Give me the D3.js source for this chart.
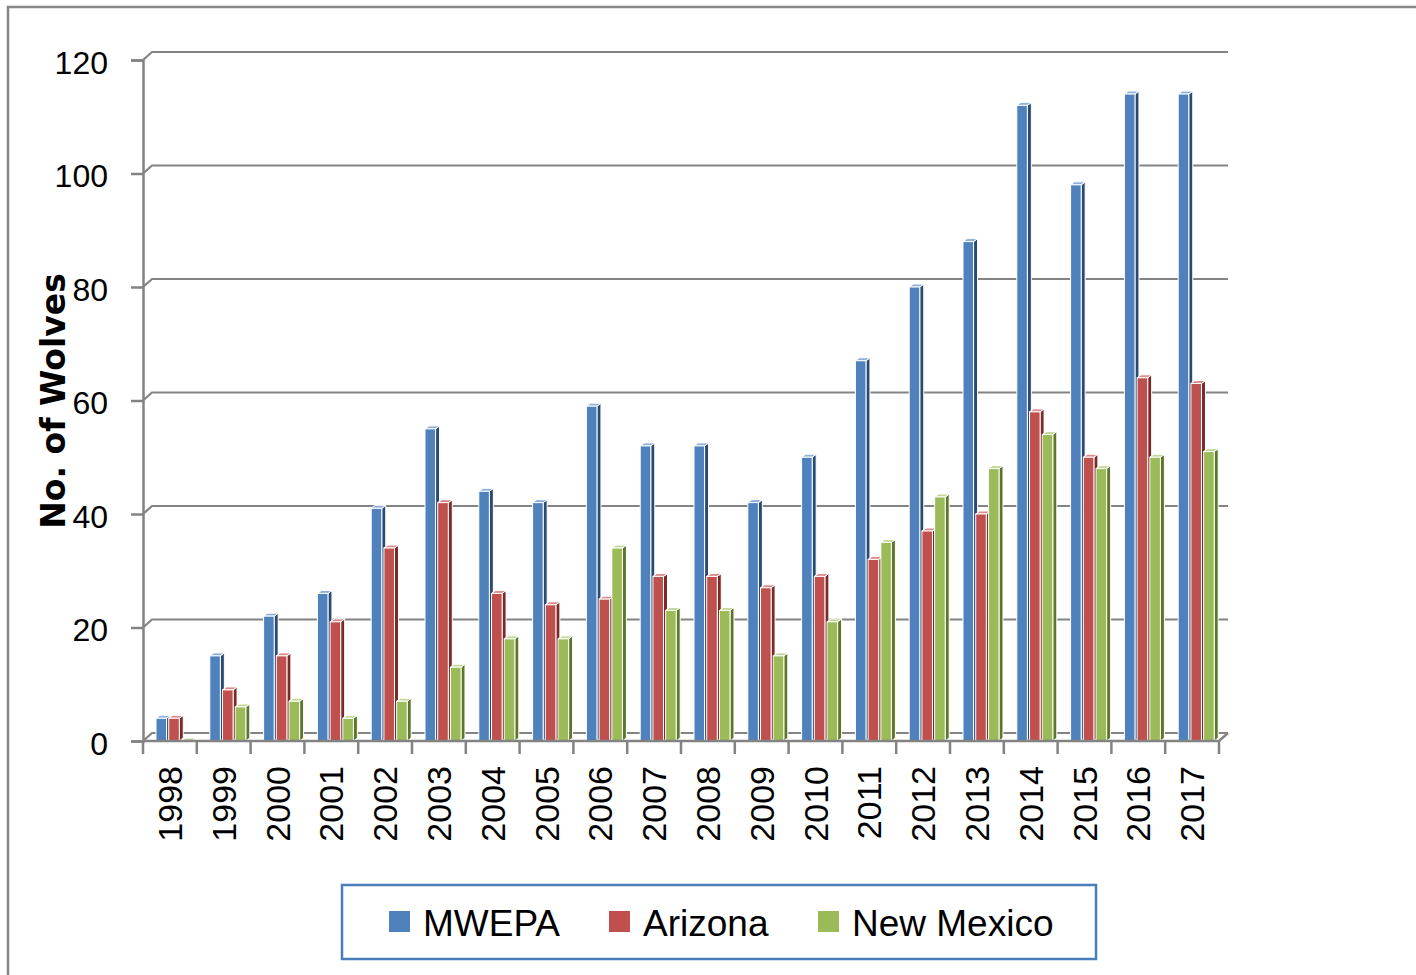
<!DOCTYPE html>
<html>
<head>
<meta charset="utf-8">
<script src="https://cdn.jsdelivr.net/npm/d3@7"></script>
<style>
  body { margin: 0; background: #fff; }
  svg { display: block; }
</style>
</head>
<body>
<script>
// Mexican wolf counts by year
var years = ["1998","1999","2000","2001","2002","2003","2004","2005","2006","2007",
             "2008","2009","2010","2011","2012","2013","2014","2015","2016","2017"];
var mwepa     = [4,15,22,26,41,55,44,42,59,52,52,42,50,67,80,88,112,98,114,114];
var arizona   = [4,9,15,21,34,42,26,24,25,29,29,27,29,32,37,40,58,50,64,63];
var newMexico = [0,6,7,4,7,13,18,18,34,23,23,15,21,35,43,48,54,48,50,51];
var seriesNames = ["MWEPA","Arizona","New Mexico"];
var yTicks = [0,20,40,60,80,100,120];

var width = 1416,
    height = 975,
    plotLeft = 143, plotRight = 1219,
    plotTop = 60, plotBottom = 741,
    depthX = 9, depthY = 8,     // back wall offset
    barDx = 4, barDy = 3;       // bar depth

var colors = {
  "MWEPA":      {front: "#4F81BD", side: "#2A4A72", top: "#8FB0DA"},
  "Arizona":    {front: "#C0504D", side: "#7A2A28", top: "#DC8C8A"},
  "New Mexico": {front: "#9BBB59", side: "#5C772B", top: "#C3D99A"}
};

var rows = years.map(function(yr, i){
  return {year: yr, "MWEPA": mwepa[i], "Arizona": arizona[i], "New Mexico": newMexico[i]};
});

var svg = d3.select("body").append("svg")
  .attr("width", width)
  .attr("height", height);

svg.append("rect").attr("width", width).attr("height", height).attr("fill", "#fff");

// chart area border (runs off the right and bottom edges)
svg.append("rect")
  .attr("x", 8).attr("y", 7)
  .attr("width", 1430).attr("height", 990)
  .attr("fill", "none")
  .attr("stroke", "#878787")
  .attr("stroke-width", 2.5);

var x0 = d3.scaleBand().domain(years).range([plotLeft, plotRight]);
var x1 = d3.scaleBand().domain(seriesNames).range([13, 49]).paddingInner(0.17);
var y = d3.scaleLinear().domain([0, 120]).range([plotBottom, plotTop]);

var gridColor = "#838383";

// back gridlines with the little diagonal connector to the front axis
var grid = svg.append("g");
yTicks.forEach(function(t){
  var yy = y(t);
  grid.append("path")
    .attr("d", "M" + plotLeft + "," + yy + "L" + (plotLeft + depthX) + "," + (yy - depthY) +
               "L" + (plotRight + depthX) + "," + (yy - depthY))
    .attr("fill", "none")
    .attr("stroke", gridColor)
    .attr("stroke-width", 2.2);
});

// bars
var groups = svg.append("g").selectAll("g")
  .data(rows)
  .enter().append("g")
  .attr("transform", function(d){ return "translate(" + x0(d.year) + ",0)"; });

groups.each(function(d){
  var g = d3.select(this);
  seriesNames.forEach(function(s){
    var bx = x1(s), bw = x1.bandwidth(), by = y(d[s]), b0 = y(0);
    var c = colors[s];
    // side face
    g.append("path")
      .attr("d", "M" + (bx + bw) + "," + by + "L" + (bx + bw + barDx) + "," + (by - barDy) +
                 "L" + (bx + bw + barDx) + "," + (b0 - barDy) + "L" + (bx + bw) + "," + b0 + "Z")
      .attr("fill", c.side)
      .attr("stroke", "#fff")
      .attr("stroke-width", 1);
    // top face
    g.append("path")
      .attr("d", "M" + bx + "," + by + "L" + (bx + barDx) + "," + (by - barDy) +
                 "L" + (bx + bw + barDx) + "," + (by - barDy) + "L" + (bx + bw) + "," + by + "Z")
      .attr("fill", c.top)
      .attr("stroke", "#fff")
      .attr("stroke-width", 1);
    // front face
    g.append("rect")
      .attr("x", bx)
      .attr("y", by)
      .attr("width", bw)
      .attr("height", b0 - by)
      .attr("fill", c.front)
      .attr("stroke", "#fff")
      .attr("stroke-width", 1);
  });
});

// front floor axis
svg.append("path")
  .attr("d", "M" + plotLeft + "," + y(0) + "L" + plotRight + "," + y(0) +
             "L" + (plotRight + depthX) + "," + (y(0) - depthY))
  .attr("fill", "none")
  .attr("stroke", gridColor)
  .attr("stroke-width", 2.5);

// y axis
var yAxis = svg.append("g")
  .attr("transform", "translate(" + plotLeft + ",0)")
  .call(d3.axisLeft(y).tickValues(yTicks).tickSize(12).tickPadding(23));
yAxis.select(".domain").attr("stroke", gridColor).attr("stroke-width", 2.5);
yAxis.selectAll(".tick line").attr("stroke", gridColor).attr("stroke-width", 2.5);
yAxis.selectAll(".tick text")
  .attr("font-family", "'Liberation Sans', Arial, sans-serif")
  .attr("font-size", 32)
  .attr("fill", "#000")
  .attr("dy", "0.42em");

// category tick marks at band edges
var edges = years.map(function(yr){ return x0(yr); }).concat([plotRight]);
svg.append("g").selectAll("line")
  .data(edges)
  .enter().append("line")
  .attr("x1", function(d){ return d; })
  .attr("x2", function(d){ return d; })
  .attr("y1", y(0))
  .attr("y2", y(0) + 13)
  .attr("stroke", gridColor)
  .attr("stroke-width", 2.5);

// year labels
svg.append("g").selectAll("text")
  .data(years)
  .enter().append("text")
  .attr("transform", function(d){
    return "translate(" + (x0(d) + x0.bandwidth() / 2 + 12) + ",766) rotate(-90)";
  })
  .attr("text-anchor", "end")
  .attr("font-family", "'Liberation Sans', Arial, sans-serif")
  .attr("font-size", 34)
  .attr("fill", "#000")
  .text(function(d){ return d; });

// y title
svg.append("text")
  .attr("transform", "translate(65,401) rotate(-90)")
  .attr("text-anchor", "middle")
  .attr("font-family", "'DejaVu Sans', sans-serif")
  .attr("font-weight", "bold")
  .attr("font-size", 33)
  .attr("fill", "#000")
  .text("No. of Wolves");

// legend
var legend = svg.append("g");
legend.append("rect")
  .attr("x", 342).attr("y", 885)
  .attr("width", 754).attr("height", 74)
  .attr("fill", "#fff")
  .attr("stroke", "#4A7EBB")
  .attr("stroke-width", 2.5);

var legendX = [389, 609, 818];
seriesNames.forEach(function(s, i){
  legend.append("rect")
    .attr("x", legendX[i]).attr("y", 911)
    .attr("width", 21).attr("height", 21)
    .attr("fill", colors[s].front);
  legend.append("text")
    .attr("x", legendX[i] + 34)
    .attr("y", 936)
    .attr("font-family", "'Liberation Sans', Arial, sans-serif")
    .attr("font-size", 37)
    .attr("fill", "#000")
    .text(s);
});
</script>
</body>
</html>
